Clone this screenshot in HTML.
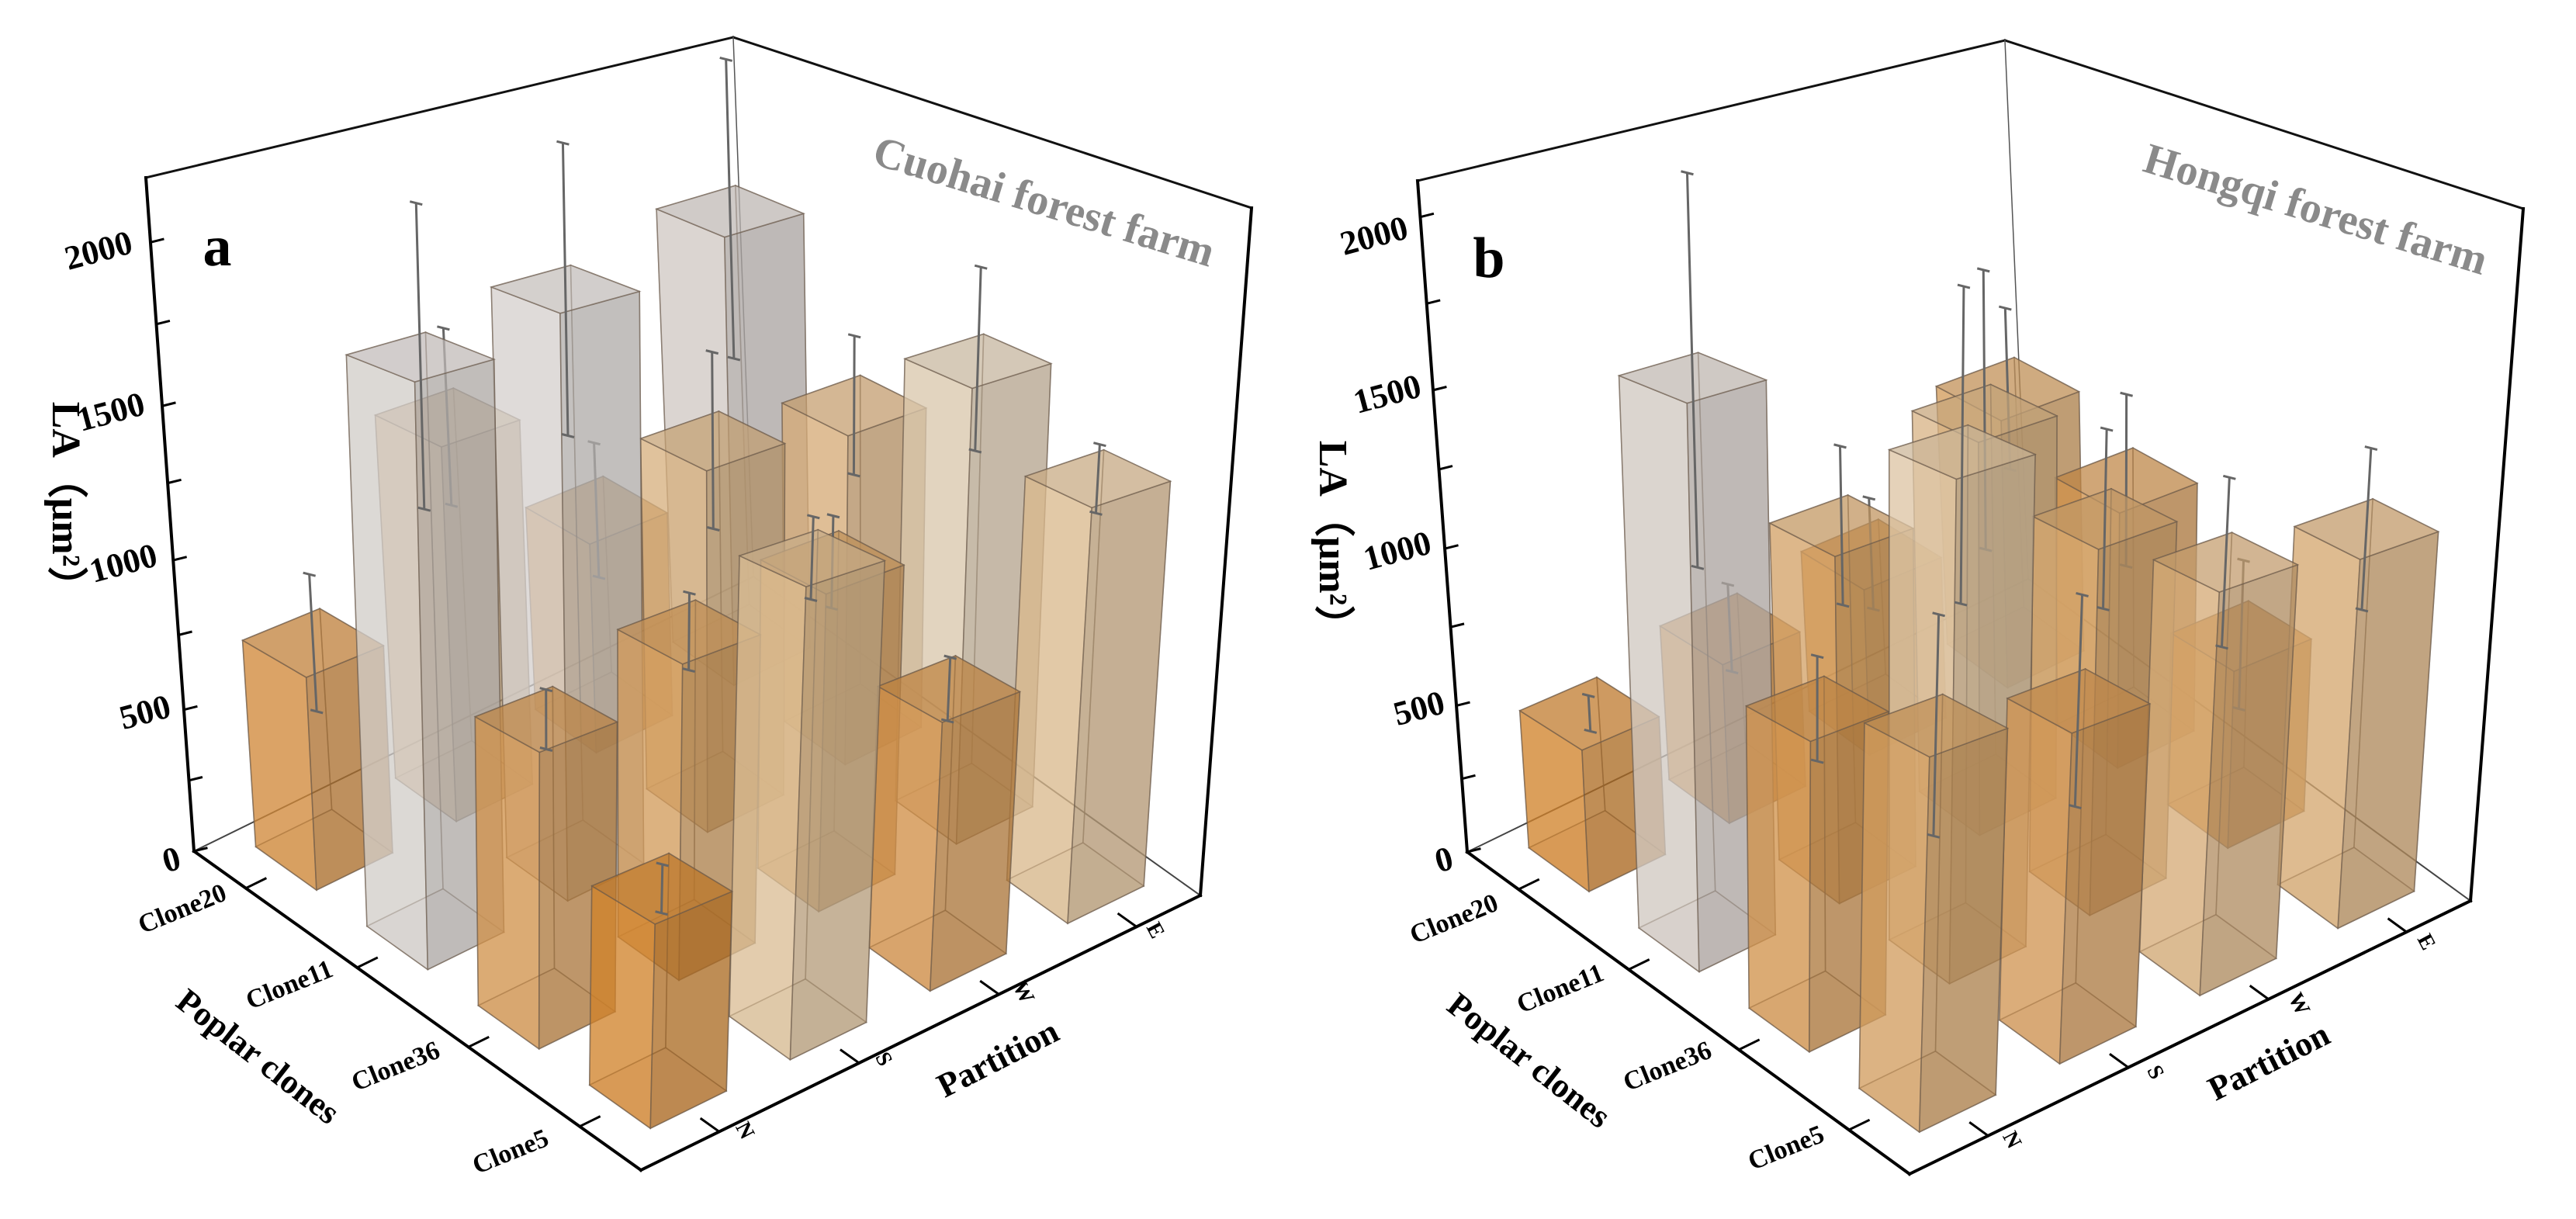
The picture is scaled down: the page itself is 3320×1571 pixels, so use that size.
<!DOCTYPE html>
<html><head><meta charset="utf-8"><style>
html,body{margin:0;padding:0;background:#fff;}
svg{display:block;}
text{font-family:"Liberation Serif",serif;font-weight:bold;}
</style></head><body>
<svg id="chart" width="3320" height="1571" viewBox="0 0 3320 1571" xmlns="http://www.w3.org/2000/svg">
<rect width="3320" height="1571" fill="#fff"/>
</svg>
<script>
const clones = ["Clone20","Clone11","Clone36","Clone5"];
const partitions = ["N","S","W","E"];
const yTicks = [0,500,1000,1500,2000];
// Panel a (Cuohai) values per clone: [N,S,W,E]
const aClone20 = [720,1300,780,1700];
const aClone11 = [1800,1880,1250,1200];
const aClone36 = [900,1000,1050,1550];
const aClone5  = [600,1400,850,1350];
const aErr20 = [230,300,250,550];
const aErr11 = [450,450,300,250];
const aErr36 = [90,120,150,300];
const aErr5  = [70,120,100,110];
// Panel b (Hongqi) values
const bClone20 = [470,550,600,1000];
const bClone11 = [1680,1100,1300,900];
const bClone36 = [900,1500,1150,600];
const bClone5  = [1030,950,1200,1150];
const bErr20 = [60,150,200,300];
const bErr11 = [550,250,450,300];
const bErr36 = [150,450,280,250];
const bErr5  = [300,300,250,250];

const NS="http://www.w3.org/2000/svg";
const svg=document.getElementById('chart');
function mk(tag,attrs,parent){const e=document.createElementNS(NS,tag);for(const k in attrs)e.setAttribute(k,attrs[k]);(parent||svg).appendChild(e);return e;}

const panels=[
 {id:'a',L:[250,1097],F:[826,1508],R:[1547,1154],B:[971,743],TL:[188,229],TF:[853,448],TR:[1613,268],TB:[945,48],
  fr:[0,.21,.432,.661,.904,1],fv:[0,500,1000,1500,2000,2200],
  vals:[aClone20,aClone11,aClone36,aClone5],errs:[aErr20,aErr11,aErr36,aErr5],
  title:"Cuohai forest farm",tpos:[1344,265],letter:[280,325],
  tickLab:[[222,1112],[188,922],[160,730],[144,535],[128,327]],
  cloneLab:[[236,1174],[374,1272],[511,1377],[659,1487]],
  partLab:[[958,1458],[1137,1366],[1317,1280],[1487,1200]],
  pc:[330,1365],pt:[1288,1368],la:[80,650]},
 {id:'b',L:[1891,1098],F:[2461,1513],R:[3184,1161],B:[2614,746],TL:[1827,233],TF:[2493,450],TR:[3252,269],TB:[2584,52],
  fr:[0,.218,.452,.688,.946,1],fv:[0,500,1000,1500,2000,2100],
  vals:[bClone20,bClone11,bClone36,bClone5],errs:[bErr20,bErr11,bErr36,bErr5],
  title:"Hongqi forest farm",tpos:[2983,275],letter:[1919,340],
  tickLab:[[1862,1112],[1830,917],[1802,714],[1789,512],[1772,308]],
  cloneLab:[[1875,1187],[2012,1277],[2150,1377],[2303,1482]],
  partLab:[[2591,1470],[2776,1383],[2961,1295],[3125,1215]],
  pc:[1968,1370],pt:[2926,1372],la:[1713,700]}
];
const uC=[.116,.365,.614,.863], wC=[.14,.39,.64,.886], H=.068;

function bil(a,b,c,d,u,w){return[a[0]*(1-u)*(1-w)+b[0]*u*(1-w)+c[0]*u*w+d[0]*(1-u)*w,
 a[1]*(1-u)*(1-w)+b[1]*u*(1-w)+c[1]*u*w+d[1]*(1-u)*w];}
function P(p,u,w,t){const f=bil(p.L,p.F,p.R,p.B,u,w),g=bil(p.TL,p.TF,p.TR,p.TB,u,w);return[f[0]+(g[0]-f[0])*t,f[1]+(g[1]-f[1])*t];}
function vfrac(p,v){const a=p.fv,b=p.fr;if(v<=0)return 0;for(let i=1;i<a.length;i++){if(v<=a[i])return b[i-1]+(b[i]-b[i-1])*(v-a[i-1])/(a[i]-a[i-1]);}
 return b[b.length-1]+(v-a[a.length-1])*(b[b.length-1]-b[b.length-2])/(a[a.length-1]-a[a.length-2]);}
const cStops=[[600,[214,134,44]],[900,[214,150,78]],[1200,[220,176,122]],[1500,[228,204,170]],[1700,[214,206,202]],[2000,[224,220,218]]];
function color(v){if(v<=cStops[0][0])return cStops[0][1];for(let i=1;i<cStops.length;i++){if(v<=cStops[i][0]){const t=(v-cStops[i-1][0])/(cStops[i][0]-cStops[i-1][0]);return cStops[i-1][1].map((c,k)=>c+(cStops[i][1][k]-c)*t);}}return cStops[cStops.length-1][1];}
function rgb(c,f){return 'rgb('+c.map(x=>Math.round(x*f)).join(',')+')';}
function pts(a){return a.map(q=>q[0].toFixed(1)+','+q[1].toFixed(1)).join(' ');}
function line(g,a,b,w,col,name){const l=mk('line',{x1:a[0],y1:a[1],x2:b[0],y2:b[1],stroke:col,'stroke-width':w,'stroke-linecap':'square'},g);
 
 return l;}
function txt(g,x,y,s,size,rot,name,extra){const t=mk('text',Object.assign({x:x,y:y,'font-size':size,'text-anchor':'middle','dominant-baseline':'middle',transform:'rotate('+rot+' '+x+' '+y+')'},extra||{}),g);t.textContent=s;
 
 return t;}

panels.forEach(p=>{
 const g=mk('g',{});
 
 
 line(g,p.TL,p.TB,3,'#111','top-back-left-edge');
 line(g,p.TB,p.TR,3,'#111','top-back-right-edge');
 line(g,p.B,p.TB,1.5,'#555','back-vertical-edge');
 line(g,p.L,p.B,2,'#444','floor-back-left-edge');
 line(g,p.B,p.R,2,'#444','floor-back-right-edge');
 line(g,p.L,p.TL,4,'#000','z-axis-line');
 line(g,p.R,p.TR,4,'#000','right-vertical-edge');
 line(g,p.L,p.F,4,'#000','clone-axis-line');
 line(g,p.F,p.R,4,'#000','partition-axis-line');
 for(let v=0;v<=2000;v+=250){const t=vfrac(p,v);const a=P(p,0,0,t);
   line(g,a,[a[0]+16,a[1]-4],3,'#000','z-tick');}
 yTicks.forEach((v,i)=>{const q=p.tickLab[i];txt(g,q[0],q[1],String(v),44,-15,'z-tick-label');});
 clones.forEach((c,i)=>{const a=P(p,uC[i],0,0),b=P(p,uC[i],0.035,0);line(g,a,b,3,'#000','clone-tick');
   const q=p.cloneLab[i];txt(g,q[0],q[1],c,34,-22,'clone-label');});
 partitions.forEach((c,i)=>{const a=P(p,1,wC[i],0),b=P(p,0.96,wC[i],0);line(g,a,b,3,'#000','partition-tick');
   const q=p.partLab[i];txt(g,q[0],q[1],c,28,62,'partition-label');});
 txt(g,p.pc[0],p.pc[1],'Poplar clones',44,38,'clone-axis-title');
 txt(g,p.pt[0],p.pt[1],'Partition',44,-27,'partition-axis-title');
 txt(g,p.la[0],p.la[1],'LA（μm²）',52,90,'z-axis-title');
 txt(g,p.letter[0],p.letter[1],p.id,74,0,'panel-letter');
 txt(g,p.tpos[0],p.tpos[1],p.title,56,17,'panel-title',{fill:'#8a8a8a'});
 const order=[];for(let i=0;i<4;i++)for(let j=0;j<4;j++)order.push([i,j]);
 order.sort((x,y)=>((1-uC[y[0]])+wC[y[1]])-((1-uC[x[0]])+wC[x[1]]));
 order.forEach(([i,j])=>{
  const v=p.vals[i][j],e=p.errs[i][j],t=vfrac(p,v),col=color(v);
  const u0=uC[i]-H,u1=uC[i]+H,w0=wC[j]-H,w1=wC[j]+H;
  const bg=mk('g',{},g);
  
  
  const face=(a,f,op)=>{const pl=mk('polygon',{points:pts(a),fill:rgb(col,f),'fill-opacity':op,stroke:'#6a5a4a','stroke-opacity':.55,'stroke-width':1.6},bg);
    
    };
  face([P(p,u0,w0,0),P(p,u1,w0,0),P(p,u1,w1,0),P(p,u0,w1,0)],.8,.45);
  face([P(p,u0,w0,0),P(p,u0,w1,0),P(p,u0,w1,t),P(p,u0,w0,t)],.85,.4);
  face([P(p,u0,w1,0),P(p,u1,w1,0),P(p,u1,w1,t),P(p,u0,w1,t)],.8,.4);
  face([P(p,u0,w0,0),P(p,u1,w0,0),P(p,u1,w0,t),P(p,u0,w0,t)],1,.62);
  face([P(p,u1,w0,0),P(p,u1,w1,0),P(p,u1,w1,t),P(p,u1,w0,t)],.8,.62);
  face([P(p,u0,w0,t),P(p,u1,w0,t),P(p,u1,w1,t),P(p,u0,w1,t)],.9,.55);
  const lo=P(p,uC[i],wC[j],vfrac(p,v-e)),hi=P(p,uC[i],wC[j],vfrac(p,v+e));
  const eb=mk('path',{d:`M${lo[0]},${lo[1]}L${hi[0]},${hi[1]}M${hi[0]-8},${hi[1]-2}L${hi[0]+8},${hi[1]+2}M${lo[0]-8},${lo[1]-2}L${lo[0]+8},${lo[1]+2}`,stroke:'#666','stroke-width':3,fill:'none'},bg);
  
  
 });
});
</script>
</body></html>
